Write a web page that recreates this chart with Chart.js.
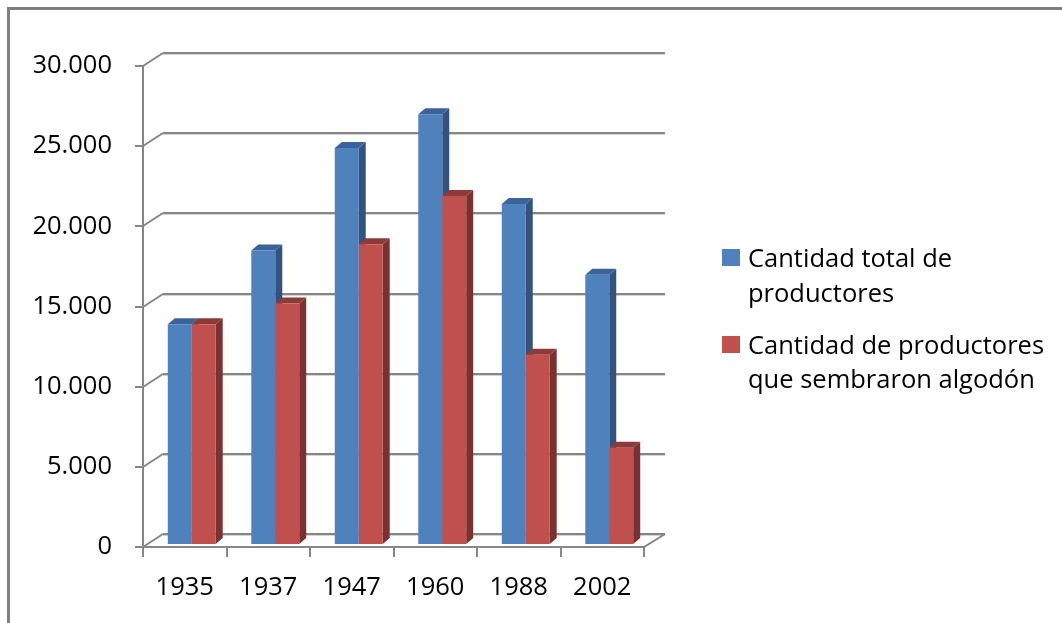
<!DOCTYPE html>
<html>
<head>
<meta charset="utf-8">
<script src="https://cdn.jsdelivr.net/npm/chart.js@4.4.1/dist/chart.umd.min.js"></script>
<style>
  html, body { margin: 0; padding: 0; background: #ffffff; }
  #wrap { width: 1062px; height: 623px; position: relative; }
  canvas { display: block; }
</style>
</head>
<body>
<div id="wrap"><canvas id="c" width="1062" height="623"></canvas></div>
<script>
// ---- data ----
const categories = ['1935', '1937', '1947', '1960', '1988', '2002'];
const totalProductores = [13700, 18300, 24700, 26800, 21200, 16800];
const productoresAlgodon = [13700, 15000, 18700, 21700, 11800, 6000];
const yTickValues = [0, 5000, 10000, 15000, 20000, 25000, 30000];
const yTickLabels = ['0', '5.000', '10.000', '15.000', '20.000', '25.000', '30.000'];
const seriesLabels = [
  ['Cantidad total de', 'productores'],
  ['Cantidad de productores', 'que sembraron algodón']
];
const seriesColors = ['#4F81BD', '#C0504D'];
const sideColors = ['#33537F', '#7C3131'];
const topColors = ['#3B639B', '#8E3A38'];

const FONT = '"Open Sans", "Noto Sans", sans-serif';
const FSIZE = 25.5;
const DX = 7, DY = 6;          // bar depth
const BACK_DX = 13, BACK_DY = 11;  // back wall offset from bar plane
const FRONT_DX = -7, FRONT_DY = 3; // front plane offset from bar plane

const threeD = {
  id: 'threeD',
  beforeDraw(chart) {
    const ctx = chart.ctx;
    ctx.save();
    ctx.fillStyle = '#ffffff';
    ctx.fillRect(0, 0, chart.width, chart.height);
    // frame
    ctx.strokeStyle = '#7f7f7f';
    ctx.lineWidth = 3;
    ctx.beginPath();
    ctx.moveTo(8.5, chart.height);
    ctx.lineTo(8.5, 8.5);
    ctx.lineTo(chart.width, 8.5);
    ctx.stroke();
    ctx.restore();
  },
  beforeDatasetsDraw(chart) {
    const ctx = chart.ctx;
    const y = chart.scales.y;
    const ca = chart.chartArea;
    const frontL = ca.left + FRONT_DX;
    const frontR = frontL + (ca.right - ca.left);
    const backL = ca.left + BACK_DX;
    const backR = ca.right + BACK_DX + 1;
    ctx.save();
    // back wall gridlines + left diagonals
    yTickValues.forEach(v => {
      const py = Math.round(y.getPixelForValue(v));
      const by = py - BACK_DY;
      const fy = py + FRONT_DY;
      ctx.strokeStyle = '#d4d4d4';
      ctx.lineWidth = 1;
      ctx.beginPath();
      ctx.moveTo(backL, by + 2.5);
      ctx.lineTo(backR, by + 2.5);
      ctx.stroke();
      ctx.strokeStyle = '#868686';
      ctx.lineWidth = 2;
      ctx.beginPath();
      ctx.moveTo(backL, by + 1);
      ctx.lineTo(backR, by + 1);
      ctx.stroke();
      ctx.beginPath();
      ctx.moveTo(frontL, fy);
      ctx.lineTo(backL, by + 1);
      ctx.stroke();
      // tick
      ctx.beginPath();
      ctx.moveTo(frontL - 8, fy);
      ctx.lineTo(frontL, fy);
      ctx.stroke();
    });
    const f0 = Math.round(y.getPixelForValue(0)) + FRONT_DY;
    const fTop = Math.round(y.getPixelForValue(30000)) + FRONT_DY;
    // front vertical axis
    ctx.strokeStyle = '#868686';
    ctx.lineWidth = 2;
    ctx.beginPath();
    ctx.moveTo(frontL, fTop);
    ctx.lineTo(frontL, f0 + 10);
    ctx.stroke();
    // floor front edge and right diagonal
    ctx.beginPath();
    ctx.moveTo(frontL, f0);
    ctx.lineTo(frontR, f0);
    ctx.lineTo(backR, f0 - (BACK_DY + FRONT_DY) + 1);
    ctx.stroke();
    // category ticks
    const n = categories.length;
    const step = (frontR - frontL) / n;
    for (let i = 0; i <= n; i++) {
      const tx = Math.round(frontL + i * step);
      ctx.beginPath();
      ctx.moveTo(tx, f0);
      ctx.lineTo(tx, f0 + 10);
      ctx.stroke();
    }
    // bar side and top faces (fronts drawn by Chart.js on top)
    chart.data.datasets.forEach((ds, di) => {
      const meta = chart.getDatasetMeta(di);
      meta.data.forEach(el => {
        const p = el.getProps(['x', 'y', 'base', 'width'], true);
        const l = p.x - p.width / 2, r = p.x + p.width / 2;
        ctx.fillStyle = sideColors[di];
        ctx.beginPath();
        ctx.moveTo(r, p.y);
        ctx.lineTo(r + DX, p.y - DY);
        ctx.lineTo(r + DX, p.base - DY);
        ctx.lineTo(r, p.base);
        ctx.closePath();
        ctx.fill();
        ctx.fillStyle = topColors[di];
        ctx.beginPath();
        ctx.moveTo(l, p.y);
        ctx.lineTo(r, p.y);
        ctx.lineTo(r + DX, p.y - DY);
        ctx.lineTo(l + DX, p.y - DY);
        ctx.closePath();
        ctx.fill();
      });
    });
    ctx.restore();
  },
  afterDraw(chart) {
    const ctx = chart.ctx;
    ctx.save();
    ctx.font = FSIZE + 'px ' + FONT;
    ctx.textBaseline = 'alphabetic';
    ctx.textAlign = 'left';
    const boxes = [249, 336];
    const baselines = [[267, 302], [354, 388]];
    seriesLabels.forEach((lines, i) => {
      ctx.fillStyle = seriesColors[i];
      ctx.fillRect(722, boxes[i], 18, 17);
      ctx.fillStyle = '#000000';
      lines.forEach((t, j) => ctx.fillText(t, 748, baselines[i][j]));
    });
    ctx.restore();
  }
};

new Chart(document.getElementById('c'), {
  type: 'bar',
  data: {
    labels: categories,
    datasets: [
      { label: seriesLabels[0].join(' '), data: totalProductores, backgroundColor: seriesColors[0], borderWidth: 0 },
      { label: seriesLabels[1].join(' '), data: productoresAlgodon, backgroundColor: seriesColors[1], borderWidth: 0 }
    ]
  },
  options: {
    responsive: false,
    devicePixelRatio: 1,
    animation: false,
    layout: { padding: { left: 34, top: 63, right: 411, bottom: 23 } },
    datasets: { bar: { barPercentage: 1.0, categoryPercentage: 0.574 } },
    plugins: { legend: { display: false }, tooltip: { enabled: false }, title: { display: false } },
    scales: {
      x: {
        grid: { display: false, drawTicks: false },
        border: { display: false },
        ticks: { color: '#000000', font: { family: FONT, size: FSIZE }, padding: 28, labelOffset: -7, maxRotation: 0 },
        afterFit(s) { s.height = 56; }
      },
      y: {
        min: 0, max: 30000,
        grid: { display: false, drawTicks: false },
        border: { display: false },
        afterBuildTicks(s) { s.ticks = yTickValues.map(v => ({ value: v })); },
        ticks: {
          color: '#000000', font: { family: FONT, size: FSIZE }, padding: 38, labelOffset: 3,
          callback: (v) => yTickLabels[yTickValues.indexOf(v)]
        },
        afterFit(s) { s.width = 116; }
      }
    }
  },
  plugins: [threeD]
});
</script>
</body>
</html>
